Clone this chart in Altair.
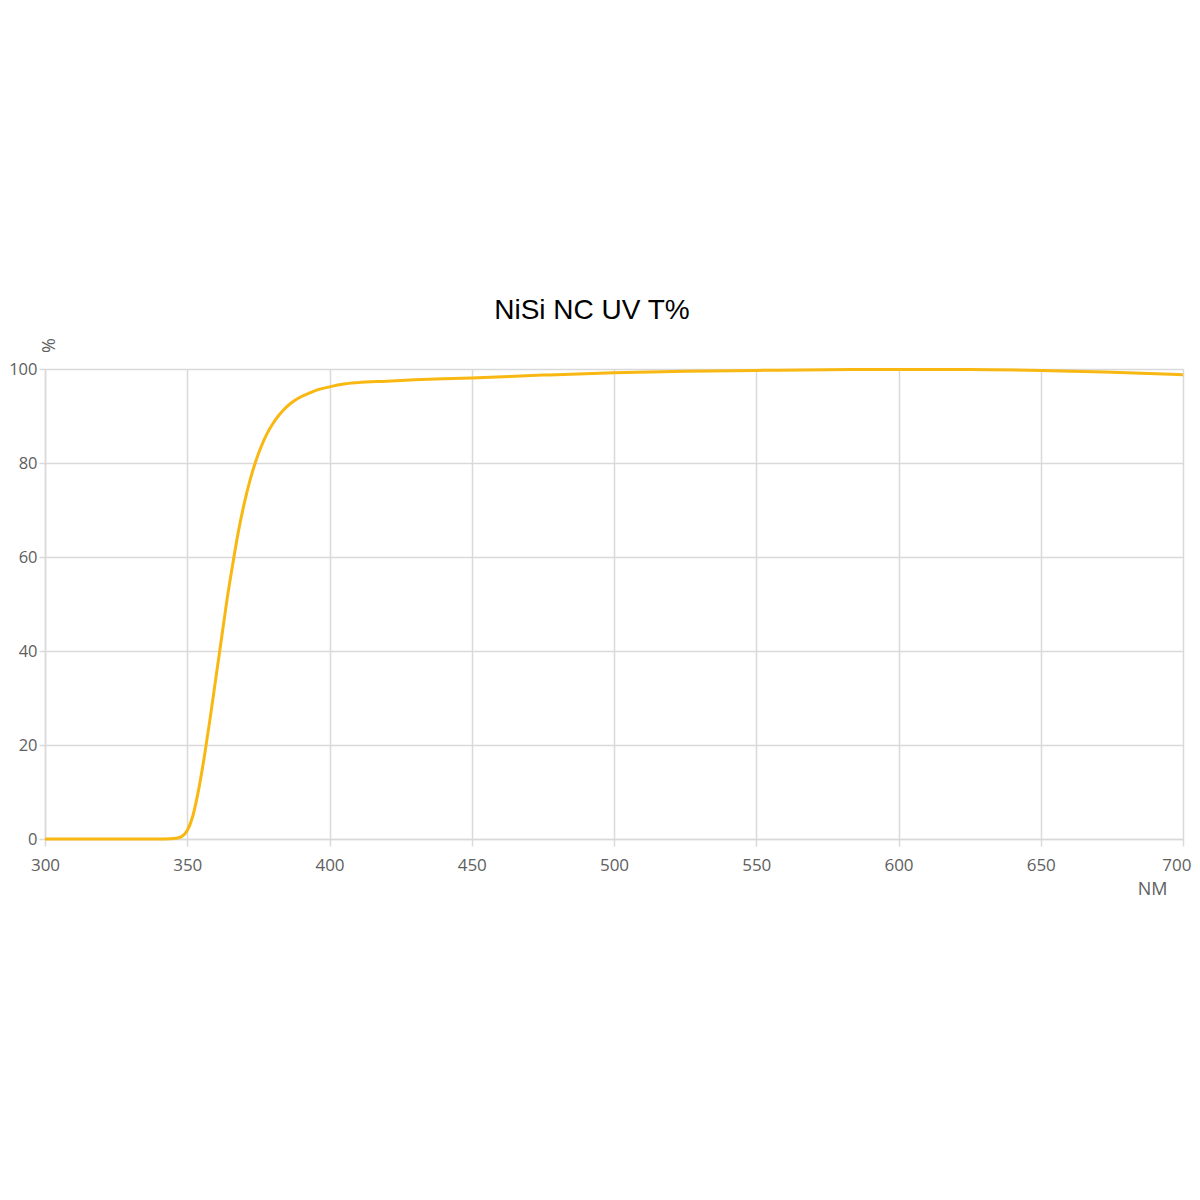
import altair as alt
import pandas as pd

wavelength = [300, 320, 340, 344, 346, 348, 350, 352, 354, 356, 358, 360, 362, 364, 366,
              368, 370, 372, 374, 376, 378, 380, 382, 384, 386, 388, 390, 393, 396, 400,
              405, 410, 420, 430, 440, 450, 475, 500, 525, 550, 575, 600, 625, 650, 675, 700]
transmittance = [0, 0, 0, 0.05, 0.15, 0.5, 1.8, 5.0, 10.5, 17.5, 25.5, 34.0, 42.5, 51.0, 58.5,
                 65.5, 71.3, 76.2, 80.2, 83.5, 86.2, 88.3, 90.0, 91.4, 92.5, 93.4, 94.1, 94.9, 95.6, 96.2,
                 96.8, 97.1, 97.4, 97.7, 97.9, 98.1, 98.7, 99.2, 99.5, 99.7, 99.85, 99.9, 99.9, 99.7, 99.3, 98.8]

x_ticks = [300, 350, 400, 450, 500, 550, 600, 650, 700]
y_ticks = [0, 20, 40, 60, 80, 100]

df = pd.DataFrame({"nm": wavelength, "t": transmittance})

grid = "#D9D9D9"
label_col = "#606060"
font = "Open Sans"

chart = alt.Chart(df).mark_line(
    color="#F9B712", strokeWidth=3, interpolate="monotone"
).encode(
    x=alt.X("nm:Q", scale=alt.Scale(domain=[300, 700], nice=False),
            axis=alt.Axis(values=x_ticks, title="NM", labelFlush=False,
                          labelAlign={"expr": "datum.value == 700 ? 'right' : 'center'"},
                          labelOffset={"expr": "datum.value == 700 ? 8 : 0"},
                          grid=True, gridColor=grid, gridWidth=1.5,
                          domainColor=grid, domainWidth=1.5,
                          tickColor=grid, tickWidth=1.5, tickSize=7,
                          labelFont=font, labelFontSize=17, labelColor=label_col,
                          labelPadding=11,
                          titleFont=font, titleFontSize=18, titleFontWeight="normal",
                          titleColor=label_col, titleX=1107, titleY=50,
                          titleAlign="center", titleBaseline="middle")),
    y=alt.Y("t:Q", scale=alt.Scale(domain=[0, 100], nice=False),
            axis=alt.Axis(values=y_ticks, title="%",
                          grid=True, gridColor=grid, gridWidth=1.5,
                          domainColor=grid, domainWidth=1.5,
                          tickColor=grid, tickWidth=1.5, tickSize=6,
                          labelFont=font, labelFontSize=16.5, labelColor=label_col,
                          labelPadding=2,
                          titleFont=font, titleFontSize=18, titleFontWeight="normal",
                          titleColor=label_col, titleX=4, titleY=-24, titleAngle=270,
                          titleAlign="center", titleBaseline="middle")),
).properties(
    width=1138,
    height=470,
    title=alt.TitleParams("NiSi NC UV T%", font="Liberation Sans", fontSize=28,
                          fontWeight="normal", color="#000000", anchor="middle",
                          frame="group", dx=-22, offset=-9, baseline="alphabetic"),
    autosize=alt.AutoSizeParams(type="none"),
    padding={"left": 37, "top": 361, "right": 9, "bottom": 80},
).configure_view(stroke=None).configure(background="white")

chart.save("out.html", embed_options={"renderer": "svg", "actions": False})
